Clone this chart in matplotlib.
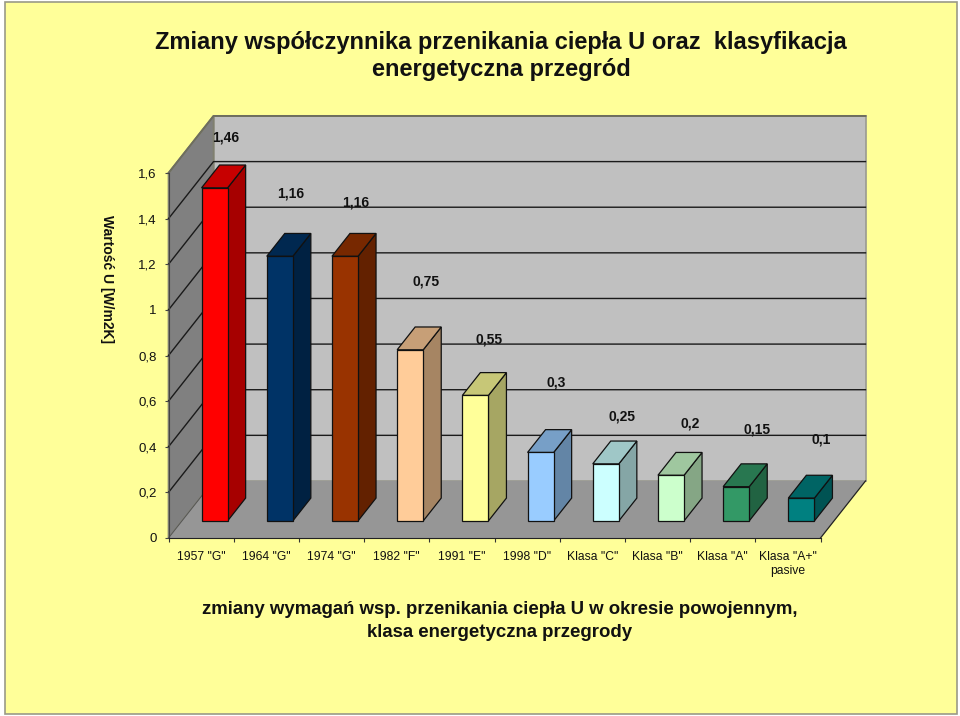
import matplotlib
matplotlib.use('Agg')
from matplotlib import pyplot as plt
from matplotlib.colors import to_rgb
from matplotlib.patches import Polygon, Rectangle

categories = ['1957 "G"', '1964 "G"', '1974 "G"', '1982 "F"', '1991 "E"', '1998 "D"',
              'Klasa "C"', 'Klasa "B"', 'Klasa "A"', 'Klasa "A+"\npasive']
values = [1.46, 1.16, 1.16, 0.75, 0.55, 0.3, 0.25, 0.2, 0.15, 0.1]
value_labels = ['1,46', '1,16', '1,16', '0,75', '0,55', '0,3', '0,25', '0,2', '0,15', '0,1']
y_ticks = [0, 0.2, 0.4, 0.6, 0.8, 1, 1.2, 1.4, 1.6]
y_tick_labels = ['0', '0,2', '0,4', '0,6', '0,8', '1', '1,2', '1,4', '1,6']
bar_colors = ['#FF0000', '#003366', '#993300', '#FFCC99', '#FFFF99',
              '#99CCFF', '#CCFFFF', '#CCFFCC', '#339966', '#008080']

# data labels were dragged by hand in the original, offsets in pixels from bar top
label_dx = [11, 11, 11, 16, 14, 16, 16, 19, 21, 20]
label_dy = [50, 63, 54, 68, 56, 70, 47, 52, 57, 59]

FONT = 'Liberation Sans'
DEPTH_X = 45 / 65.2   # full chart depth in category units
DEPTH_Y = 0.25        # full chart depth in value units
BAR_W = 0.4


def pt(x, v, d):
    return (x + d * DEPTH_X, v + d * DEPTH_Y)


def shade(color, k):
    return tuple(c * k for c in to_rgb(color))


def face(ax, corners, color, edge='#111111', lw=0.9, z=2):
    ax.add_patch(Polygon(corners, closed=True, facecolor=color, edgecolor=edge,
                         linewidth=lw, zorder=z, clip_on=False, joinstyle='miter'))


fig = plt.figure(figsize=(9.6, 7.16), dpi=100, facecolor='white')
fig.add_artist(Rectangle((4.5 / 960, 1 - 714 / 716), 952 / 960, 712.5 / 716,
                         transform=fig.transFigure, facecolor='#FFFF99',
                         edgecolor='#999988', linewidth=1.2, zorder=-1))

ax = fig.add_axes([168.5 / 960, (716 - 538) / 716, 652 / 960, 365 / 716])
ax.set_xlim(0, 10)
ax.set_ylim(0, 1.6)
ax.patch.set_visible(False)

# walls and floor
top = y_ticks[-1]
face(ax, [pt(0, 0, 1), pt(10, 0, 1), pt(10, top, 1), pt(0, top, 1)], '#C0C0C0', edge='#9A9A90', lw=1.2, z=0)
face(ax, [pt(0, 0, 0), pt(0, 0, 1), pt(0, top, 1), pt(0, top, 0)], '#808080', edge='#808070', lw=1.2, z=0)
face(ax, [pt(0, 0, 0), pt(10, 0, 0), pt(10, 0, 1), pt(0, 0, 1)], '#969696', edge='none', lw=0, z=0)
ax.plot([pt(0, top, 0)[0], pt(0, top, 1)[0], pt(10, top, 1)[0]],
        [pt(0, top, 0)[1], pt(0, top, 1)[1], pt(10, top, 1)[1]],
        color='#6E6E5E', lw=1.4, zorder=1, clip_on=False)
ax.plot([pt(10, 0, 0)[0], pt(10, 0, 1)[0]], [pt(10, 0, 0)[1], pt(10, 0, 1)[1]],
        color='#222222', lw=0.9, zorder=1, clip_on=False)
ax.plot([pt(0, 0, 0)[0], pt(0, 0, 1)[0]], [pt(0, 0, 0)[1], pt(0, 0, 1)[1]],
        color='#555555', lw=0.7, zorder=1, clip_on=False)

# gridlines, back wall + side wall
for t in y_ticks[1:-1]:
    xs = [pt(0, t, 0)[0], pt(0, t, 1)[0], pt(10, t, 1)[0]]
    ys = [pt(0, t, 0)[1], pt(0, t, 1)[1], pt(10, t, 1)[1]]
    ax.plot(xs, ys, color='#1A1A1A', lw=1.0, zorder=1, clip_on=False)

# bars
for i, (v, col) in enumerate(zip(values, bar_colors)):
    x0 = i + 0.5 - BAR_W / 2
    x1 = i + 0.5 + BAR_W / 2
    d0, d1 = 0.3, 0.7
    face(ax, [pt(x1, 0, d0), pt(x1, 0, d1), pt(x1, v, d1), pt(x1, v, d0)], shade(col, 0.65), z=3)
    face(ax, [pt(x0, v, d0), pt(x1, v, d0), pt(x1, v, d1), pt(x0, v, d1)], shade(col, 0.78), z=3)
    face(ax, [pt(x0, 0, d0), pt(x1, 0, d0), pt(x1, v, d0), pt(x0, v, d0)], col, z=4)
    ax.annotate(value_labels[i], xy=pt(i + 0.5, v, d0), xytext=(label_dx[i], label_dy[i]),
                textcoords='offset pixels', ha='center', va='center', family=FONT,
                fontsize=10, color='#111111', fontweight='bold', zorder=6, annotation_clip=False)

# axes
for s in ['top', 'right']:
    ax.spines[s].set_visible(False)
ax.spines['left'].set_color('#444444')
ax.spines['bottom'].set_color('#222222')
ax.spines['left'].set_linewidth(0.8)
ax.spines['bottom'].set_linewidth(0.8)
ax.set_yticks(y_ticks)
ax.set_yticklabels(y_tick_labels, family=FONT, fontsize=9.5, color='#111111')
ax.tick_params(axis='y', length=3, width=0.8, color='#444444', pad=5.5)
ax.set_xticks(range(11))
ax.set_xticklabels([])
ax.tick_params(axis='x', which='major', length=3, width=0.8, color='#333333')
ax.set_xticks([i + 0.5 for i in range(10)], minor=True)
ax.set_xticklabels(categories, minor=True, family=FONT, fontsize=8.7, color='#111111', linespacing=1.2, va='top')
ax.tick_params(axis='x', which='minor', length=0, pad=9.5)

fig.text(501 / 960, 1 - 56 / 716, 'Zmiany współczynnika przenikania ciepła U oraz  klasyfikacja\nenergetyczna przegród',
         ha='center', va='center', family=FONT, fontsize=17, fontweight='bold', color='#111111', linespacing=1.25)
fig.text(500 / 960, 1 - 621 / 716, 'zmiany wymagań wsp. przenikania ciepła U w okresie powojennym,\nklasa energetyczna przegrody',
         ha='center', va='center', family=FONT, fontsize=13.4, fontweight='bold', color='#111111', linespacing=1.4)
fig.text(107 / 960, 1 - 279 / 716, 'Wartość U [W/m2K]', rotation=270, ha='center', va='center',
         family=FONT, fontsize=10, fontweight='bold', color='#111111')

fig.savefig('out.png', dpi=100, facecolor=fig.get_facecolor())
